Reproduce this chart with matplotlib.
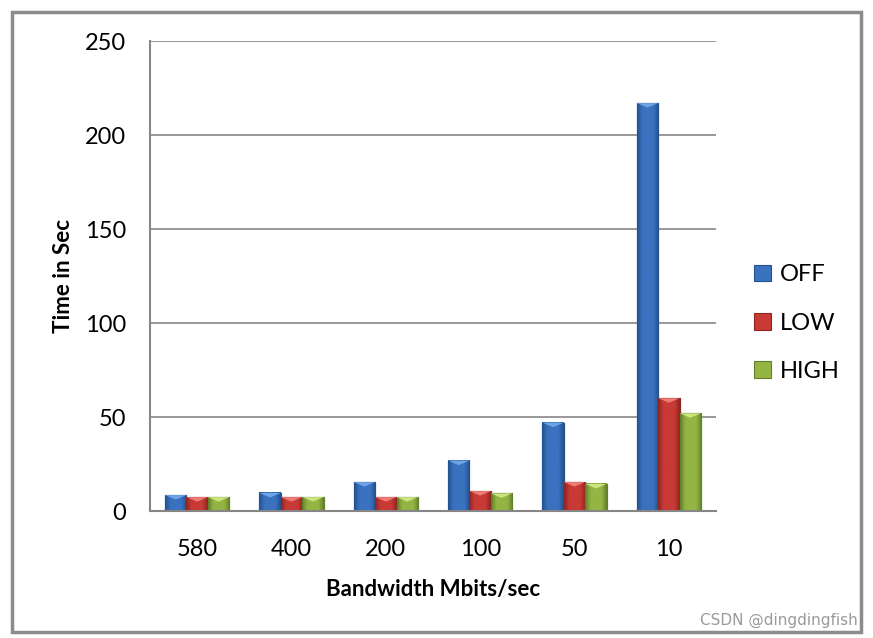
import matplotlib.pyplot as plt
import matplotlib.patches as patches
from matplotlib.colors import LinearSegmentedColormap
import numpy as np

plt.rcParams['font.family'] = ['Lato', 'DejaVu Sans']

categories = ['580', '400', '200', '100', '50', '10']
off = [8.5, 9.6, 15.4, 26.8, 47, 217]
low = [7.4, 7.4, 7.4, 10.6, 15.4, 60]
high = [7.4, 7.4, 7.4, 9.4, 14.4, 52]

series = [('OFF', off, '#3a72c0', '#24518f', '#6ea3e6'),
          ('LOW', low, '#c93a36', '#8e2522', '#ef7b76'),
          ('HIGH', high, '#94b544', '#62802a', '#cbe57e')]

fig = plt.figure(figsize=(8.73, 6.38), dpi=100)
ax = fig.add_axes([0.1718, 0.199, 0.6484, 0.7367])

x = np.arange(len(categories))
w = 0.227
grad = np.linspace(0, 1, 64).reshape(1, -1)
handles = []
for i, (name, vals, col, dark, light) in enumerate(series):
    pos = x + (i - 1) * w
    cmap = LinearSegmentedColormap.from_list(name, [dark, col, col, col, dark])
    b = ax.bar(pos, vals, w, color=col, edgecolor=dark, linewidth=0.8, zorder=3, label=name)
    for p, v in zip(pos, vals):
        # shaded fill + bevel on top, like the Office chart
        ax.imshow(grad, extent=[p - w / 2, p + w / 2, 0, v], aspect='auto', cmap=cmap,
                  zorder=3.2, interpolation='bicubic')
        ax.add_patch(patches.Rectangle((p - w / 2, 0), w, v, fill=False, edgecolor=dark,
                                       linewidth=0.8, zorder=3.4))
        tri = patches.Polygon([[p - w / 2, v], [p + w / 2, v], [p, v - 2.4]],
                              closed=True, facecolor=light, edgecolor='none', zorder=4)
        ax.add_patch(tri)
    handles.append(b)

ax.set_xlim(-0.5, 5.5)
ax.set_ylim(0, 250)
ax.set_yticks(range(0, 251, 50))
ax.set_xticks(x)
ax.set_xticklabels(categories)
ax.grid(axis='y', color='#868686', linewidth=1.2, zorder=0)
ax.tick_params(axis='both', length=0, labelsize=17, colors='black')
ax.tick_params(axis='x', pad=20)
ax.tick_params(axis='y', pad=17)
for s in ['top', 'right']:
    ax.spines[s].set_visible(False)
for s in ['left', 'bottom']:
    ax.spines[s].set_color('#868686')
    ax.spines[s].set_linewidth(1.5)
    ax.spines[s].set_zorder(5)

ax.set_ylabel('Time in Sec', fontsize=16, fontweight='bold', labelpad=8)
ax.set_xlabel('Bandwidth Mbits/sec', fontsize=16, fontweight='bold', labelpad=14)

leg = ax.legend(handles=handles, loc='center left', bbox_to_anchor=(1.03, 0.4),
                frameon=False, fontsize=17, handlelength=0.7, handleheight=0.7,
                labelspacing=1.15, handletextpad=0.4)

fig.patches.append(patches.Rectangle((0.014, 0.009), 0.972, 0.972, transform=fig.transFigure,
                                     fill=False, edgecolor='#8c8c8c', linewidth=2.5))
fig.text(0.982, 0.016, 'CSDN @dingdingfish', ha='right', va='bottom', fontsize=11,
         color='#9a9a9a', family=['DejaVu Sans'])

fig.savefig('out.png', dpi=100, facecolor='white')
